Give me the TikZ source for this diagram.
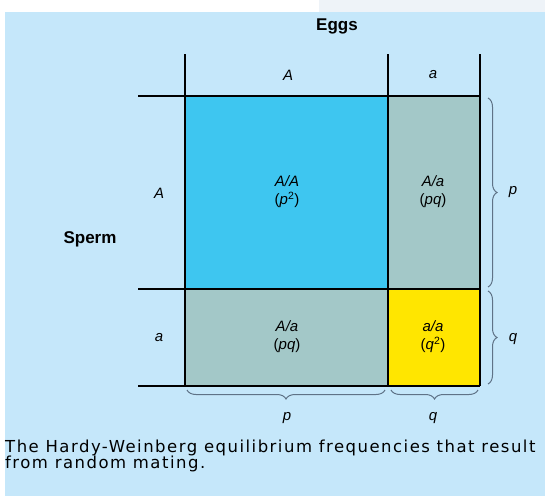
\documentclass[tikz,border=0pt]{standalone}
\usepackage{fontspec}
\setmainfont{Liberation Sans}
\newfontfamily\captionfont[LetterSpace=9]{DejaVu Sans}
\usetikzlibrary{positioning, decorations.pathreplacing}
\definecolor{skyback}{RGB}{197,231,250}
\definecolor{topgrey}{RGB}{238,243,248}
\definecolor{cellAA}{RGB}{62,198,240}
\definecolor{cellAa}{RGB}{163,200,200}
\definecolor{cellaa}{RGB}{255,230,0}
\definecolor{bracegrey}{RGB}{95,115,135}

\tikzset{
  gridline/.style={line width=1.4pt, black},
  allele/.style={font=\fontsize{15}{17}\selectfont\itshape},
  genotype/.style={font=\fontsize{15}{18}\selectfont, align=center},
  heading/.style={font=\fontsize{17}{19}\selectfont\bfseries},
  bracket/.style={decorate, decoration={brace, amplitude=9pt}, bracegrey, line width=1pt},
  bracketdown/.style={decorate, decoration={brace, mirror, amplitude=9pt}, bracegrey, line width=1pt}
}

\begin{document}
\begin{tikzpicture}[x=1pt, y=-1pt]
    % page and background
    \useasboundingbox (0,0) rectangle (545,496);
    \fill[white] (0,0) rectangle (545,496);
    \fill[topgrey] (319,0) rectangle (545,12);
    \fill[skyback] (5,12) rectangle (545,496);

    % cells
    \fill[cellAA] (185,96) rectangle (388,289);
    \fill[cellAa] (388,96) rectangle (480,289);
    \fill[cellAa] (185,289) rectangle (388,386);
    \fill[cellaa] (388,289) rectangle (480,386);

    % grid
    \draw[gridline] (185,54) -- (185,386);
    \draw[gridline] (388,54) -- (388,386);
    \draw[gridline] (480,54) -- (480,386);
    \draw[gridline] (138,96) -- (480,96);
    \draw[gridline] (138,289) -- (480,289);
    \draw[gridline] (138,386) -- (480,386);

    % headings
    \node[heading] (eggs) at (337,26) {Eggs};
    \node[heading] (sperm) at (90,239) {Sperm};
    \node[allele] (colA) at (288,75) {A};
    \node[allele] (cola) at (433,75) {a};
    \node[allele] (rowA) at (159,193) {A};
    \node[allele] (rowa) at (159,338) {a};

    % genotypes
    \node[genotype] (AA) at (287,192) {\textit{A/A}\\(\textit{p}\textsuperscript{2})};
    \node[genotype] (Aa) at (433,192) {\textit{A/a}\\(\textit{pq})};
    \node[genotype] (aA) at (287,337) {\textit{A/a}\\(\textit{pq})};
    \node[genotype] (aa) at (433,337) {\textit{a/a}\\(\textit{q}\textsuperscript{2})};

    % braces
    \draw[bracket] (488,98) -- (488,287);
    \draw[bracket] (488,291) -- (488,384);
    \draw[bracketdown] (187,390) -- (385,390);
    \draw[bracketdown] (391,390) -- (478,390);
    \node[allele] (pRight) at (513,192) {p};
    \node[allele] (qRight) at (513,339) {q};
    \node[allele] (pBottom) at (287,418) {p};
    \node[allele] (qBottom) at (433,418) {q};

    % caption
    \node[anchor=north west, align=left, inner sep=0pt,
          font=\captionfont\fontsize{16.5}{16}\selectfont] (caption) at (5,440)
      {The Hardy-Weinberg equilibrium frequencies that result\\from random mating.};
\end{tikzpicture}
\end{document}
